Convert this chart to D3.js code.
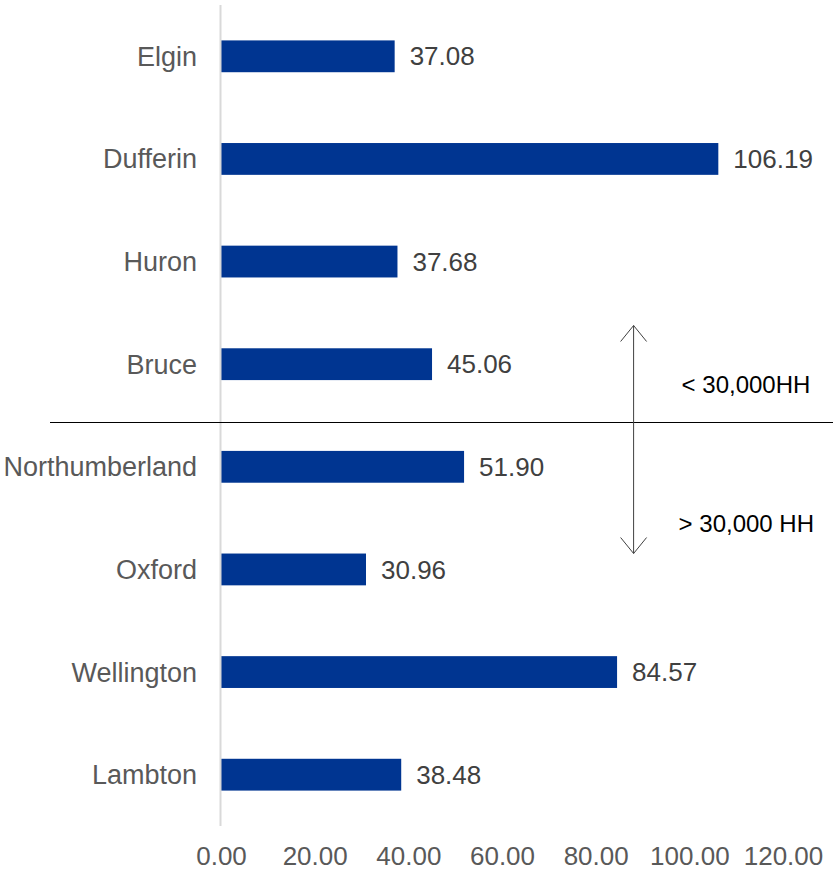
<!DOCTYPE html>
<html lang="en">
<head>
    <meta charset="UTF-8">
    <style>
        body { margin: 0; background: #fff; }
        text { font-family: "Liberation Sans", Arial, sans-serif; }
        .axis--x path, .axis--x line { display: none; }
        .axis--x text { fill: #595959; font-size: 26px; }
        .cat { fill: #595959; font-size: 27px; }
        .val { fill: #404040; font-size: 26px; }
        .note { fill: #000; font-size: 24px; }
    </style>
</head>
<body>
    <svg width="833" height="872"></svg>
    <script src="https://cdn.jsdelivr.net/npm/d3@7"></script>
    <script>
        var categories = ["Elgin", "Dufferin", "Huron", "Bruce", "Northumberland", "Oxford", "Wellington", "Lambton"];
        var values = [37.08, 106.19, 37.68, 45.06, 51.90, 30.96, 84.57, 38.48];
        var ticks = [0, 20, 40, 60, 80, 100, 120];
        var notes = ["< 30,000HH", "> 30,000 HH"];

        var data = categories.map(function(c, i) { return {name: c, value: values[i]}; });

        var svg = d3.select("svg"),
                margin = {top: 5, right: 50, bottom: 46, left: 221},
                width = svg.attr("width") - margin.left - margin.right,
                height = svg.attr("height") - margin.top - margin.bottom,
                g = svg.append("g").attr("transform", "translate(" + margin.left + "," + margin.top + ")");

        var x = d3.scaleLinear().domain([0, 120]).range([0, 562]),
                y = d3.scaleBand().domain(categories).range([0, height]).paddingInner(0.69).paddingOuter(0.345);

        // value axis (labels only)
        g.append("g")
                .attr("class", "axis axis--x")
                .attr("transform", "translate(0," + (height + 18) + ")")
                .call(d3.axisBottom(x).tickValues(ticks).tickFormat(d3.format(".2f")).tickSize(0))
                .selectAll("text").attr("dy", "0.71em");

        // bars
        g.selectAll(".bar")
                .data(data)
                .enter().append("rect")
                .attr("class", "bar")
                .attr("x", x(0))
                .attr("y", function(d) { return y(d.name); })
                .attr("width", function(d) { return x(d.value) - x(0); })
                .attr("height", y.bandwidth())
                .attr("fill", "#003591");

        // category axis line
        g.append("line")
                .attr("x1", x(0) - 0.5).attr("x2", x(0) - 0.5)
                .attr("y1", 0).attr("y2", height)
                .attr("stroke", "#d9d9d9").attr("stroke-width", 2);

        g.selectAll(".cat")
                .data(data)
                .enter().append("text")
                .attr("class", "cat")
                .attr("x", -24)
                .attr("y", function(d) { return y(d.name) + y.bandwidth() / 2; })
                .attr("dy", "0.35em")
                .attr("text-anchor", "end")
                .text(function(d) { return d.name; });

        g.selectAll(".val")
                .data(data)
                .enter().append("text")
                .attr("class", "val")
                .attr("x", function(d) { return x(d.value) + 15; })
                .attr("y", function(d) { return y(d.name) + y.bandwidth() / 2; })
                .attr("dy", "0.35em")
                .text(function(d) { return d.value.toFixed(2); });

        // divider between Bruce and Northumberland (drawn a little below the gap midpoint)
        var splitY = (y("Bruce") + y("Northumberland") + y.bandwidth()) / 2 + 7;
        g.append("line")
                .attr("x1", 50 - margin.left).attr("x2", 833 - margin.left)
                .attr("y1", splitY).attr("y2", splitY)
                .attr("stroke", "#000").attr("stroke-width", 1);

        // double arrow
        var ax = x(88.1), arrowTop = splitY - 97, arrowBot = splitY + 131;
        var arrow = g.append("g").attr("stroke", "#404040").attr("stroke-width", 1).attr("fill", "none");
        arrow.append("line").attr("x1", ax).attr("x2", ax).attr("y1", arrowTop).attr("y2", arrowBot);
        arrow.append("path").attr("d", "M" + (ax - 13) + "," + (arrowTop + 16) + "L" + ax + "," + arrowTop + "L" + (ax + 13) + "," + (arrowTop + 16));
        arrow.append("path").attr("d", "M" + (ax - 13) + "," + (arrowBot - 16) + "L" + ax + "," + arrowBot + "L" + (ax + 13) + "," + (arrowBot - 16));

        g.append("text").attr("class", "note")
                .attr("x", ax + 48).attr("y", splitY - 38).attr("dy", "0.35em")
                .text(notes[0]);
        g.append("text").attr("class", "note")
                .attr("x", ax + 45).attr("y", splitY + 101).attr("dy", "0.35em")
                .text(notes[1]);
    </script>
</body>
</html>
